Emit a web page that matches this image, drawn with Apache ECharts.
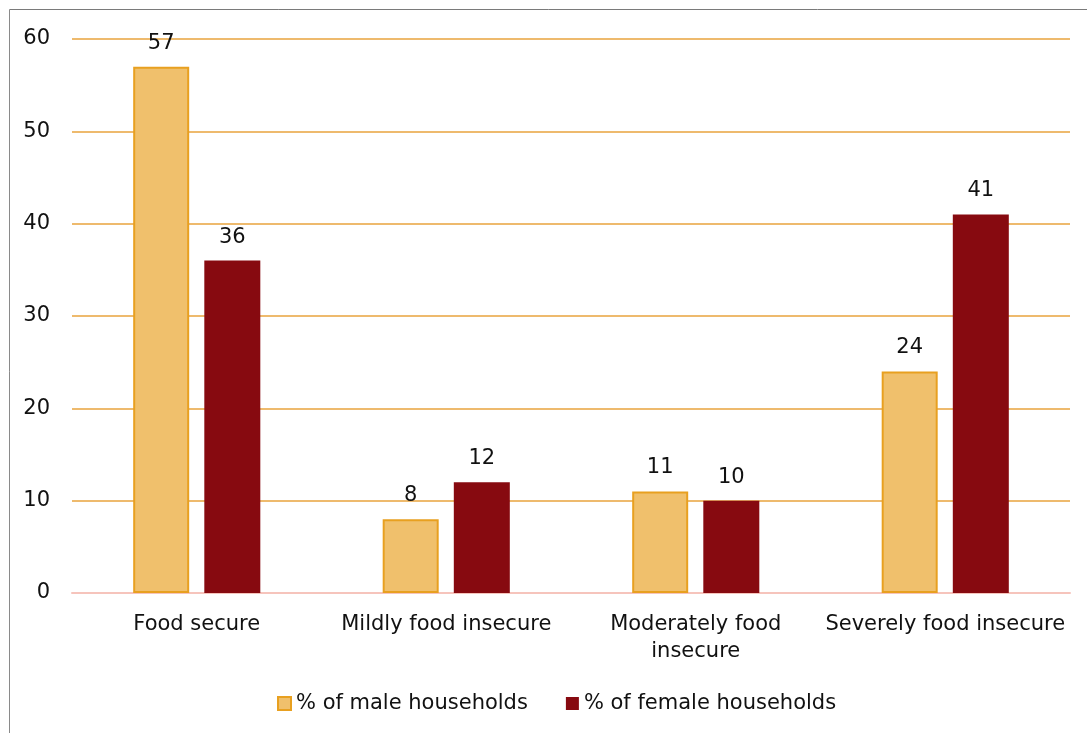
<!DOCTYPE html>
<html><head><meta charset="utf-8">
<script src="https://cdn.jsdelivr.net/npm/echarts@6/dist/echarts.min.js"></script>
<style>html,body{margin:0;padding:0;background:#fff}#c{width:1087px;height:733px}</style>
</head><body><div id="c"></div>
<script>
const categories = ['Food secure', 'Mildly food insecure', 'Moderately food\ninsecure', 'Severely food insecure'];
const maleValues = [57, 8, 11, 24];
const femaleValues = [36, 12, 10, 41];
const seriesNames = ['% of male households', '% of female households'];
const yTicks = [0, 10, 20, 30, 40, 50, 60];

const FONT = 'DejaVu Sans';
const chart = echarts.init(document.getElementById('c'));
chart.setOption({
  animation: false,
  textStyle: { fontFamily: FONT },
  graphic: [
    { type: 'line', shape: { x1: 9.5, y1: 9.5, x2: 1087, y2: 9.5 }, style: { stroke: '#7a7a7a', lineWidth: 1 } },
    { type: 'line', shape: { x1: 9.5, y1: 9.5, x2: 9.5, y2: 733 }, style: { stroke: '#8a8a8a', lineWidth: 1 } }
  ],
  grid: { left: 72, right: 17, top: 39, bottom: 140, containLabel: false },
  legend: {
    bottom: 14, left: 272, itemWidth: 13, itemHeight: 13, itemGap: 38,
    textStyle: { fontSize: 21, color: '#111', fontFamily: FONT },
    data: seriesNames.map(n => ({ name: n, icon: 'rect' }))
  },
  xAxis: {
    type: 'category', data: categories,
    axisLine: { lineStyle: { color: '#f6c4bc', width: 2 } },
    axisTick: { show: false },
    axisLabel: { fontSize: 21, color: '#111', margin: 18, lineHeight: 27, interval: 0 }
  },
  yAxis: {
    type: 'value', min: yTicks[0], max: yTicks[yTicks.length - 1], interval: 10,
    axisLine: { show: false }, axisTick: { show: false },
    axisLabel: { fontSize: 21, color: '#111', margin: 22, align: 'right' },
    splitLine: { lineStyle: { color: '#e8a33d', width: 1.5 } }
  },
  series: [
    { name: seriesNames[0], type: 'bar', data: maleValues, barWidth: 56, barGap: '27%',
      itemStyle: { color: '#f0c06c', borderColor: '#e8a020', borderWidth: 2 },
      label: { show: true, position: 'top', distance: 13, fontSize: 21, color: '#111' } },
    { name: seriesNames[1], type: 'bar', data: femaleValues, barWidth: 56,
      itemStyle: { color: '#870a10' },
      label: { show: true, position: 'top', distance: 13, fontSize: 21, color: '#111' } }
  ]
});
</script></body></html>
